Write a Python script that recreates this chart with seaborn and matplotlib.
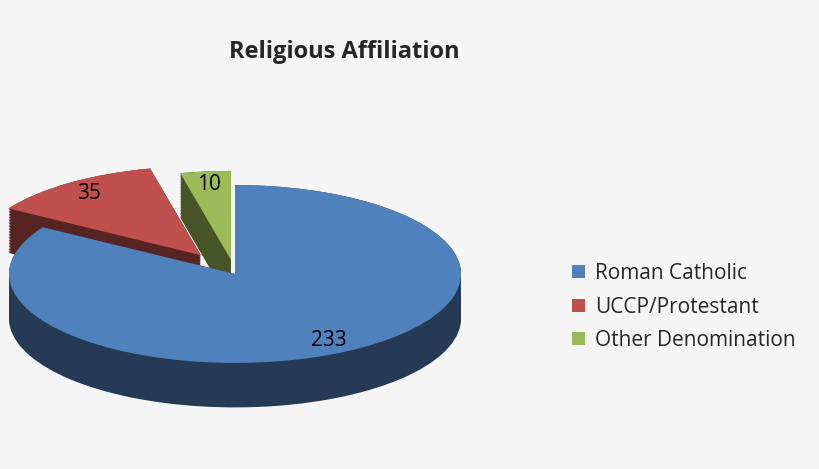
import numpy as np
import matplotlib.pyplot as plt
import seaborn as sns
from matplotlib.colors import to_rgb

sns.set_style("white")
plt.rcParams['font.family'] = ['Open Sans', 'DejaVu Sans']

# data
labels = ["Roman Catholic", "UCCP/Protestant", "Other Denomination"]
counts = [233, 35, 10]
colors = ["#4f81bd", "#c0504d", "#9bbb59"]
explode = [0.0, 0.26, 0.16]

fig = plt.figure(figsize=(8.2, 4.69), dpi=100)
fig.patch.set_facecolor("#f5f5f5")
ax = fig.add_axes([0.0, -14 / 469, 470 / 820, 418 / 469])
ax.set_facecolor("#f5f5f5")

# side walls (fake 3D depth)
dark = [tuple(c * 0.45 for c in to_rgb(col)) for col in colors]
for d in np.linspace(0.5, 0.0, 30):
    ax.pie(counts, colors=dark, explode=explode, startangle=90, counterclock=False,
           center=(0, -d), radius=1.0, wedgeprops=dict(linewidth=0))

wedges, _, autotexts = ax.pie(
    counts, colors=colors, explode=explode, startangle=90, counterclock=False,
    center=(0, 0), radius=1.0, autopct=lambda p: f"{round(p * sum(counts) / 100):d}",
    pctdistance=0.85, wedgeprops=dict(linewidth=0),
    textprops=dict(fontsize=15, color="black"))

ax.set_aspect("auto")
ax.set_xlim(-1.04, 1.04)
ax.set_ylim(-2.35, 2.35)
ax.axis("off")

fig.text(0.42, 0.89, "Religious Affiliation", ha="center", va="center",
         fontsize=17, fontweight="bold")

fig.legend(wedges, labels, loc="center left", bbox_to_anchor=(0.675, 0.345),
           frameon=False, fontsize=15, handlelength=0.6, handleheight=0.6,
           labelspacing=0.6, handletextpad=0.5)

fig.savefig("out.png", dpi=100, facecolor=fig.get_facecolor())
